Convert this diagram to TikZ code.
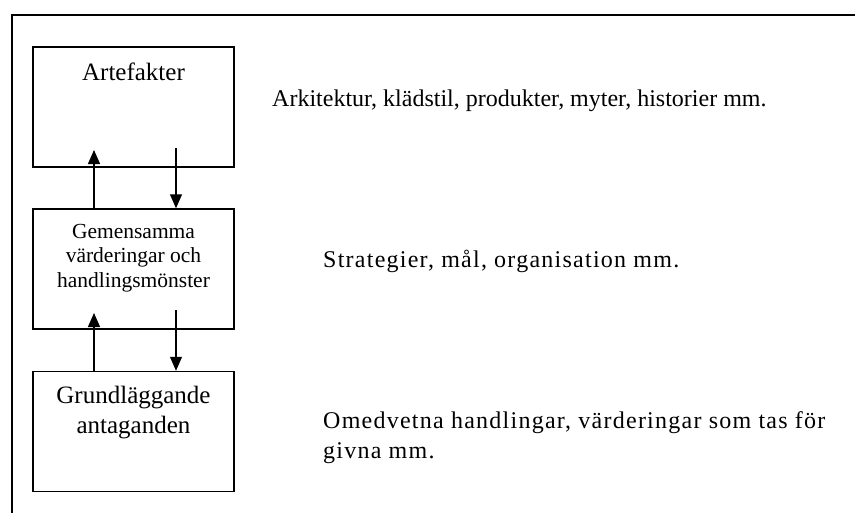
\documentclass[tikz,border=0pt]{standalone}
\usepackage{fontspec}
\setmainfont{Liberation Serif}
\usetikzlibrary{arrows.meta}
\begin{document}
\begin{tikzpicture}[x=1pt,y=-1pt,
  box/.style={draw,line width=1.5pt,minimum width=201pt,minimum height=120pt,inner sep=0pt},
  arr/.style={line width=1.3pt,-{Triangle[length=14pt,width=12pt]}},
  lbl/.style={inner sep=0pt,align=center,font=\fontsize{25}{30}\selectfont},
  lbls/.style={inner sep=0pt,align=center,font=\fontsize{21.5}{24.5}\selectfont},
  side/.style={inner sep=0pt,anchor=west,align=left,font=\fontsize{24}{30}\selectfont},
  wide/.style={font=\fontsize{24}{30}\selectfont\addfontfeature{LetterSpace=5.2}}]
\useasboundingbox (0,0) rectangle (855,512);
\draw[line width=1.5pt] (12,513) -- (12,15) -- (856,15);
\node[box] (a) at (133.5,107) {};
\node[box] (b) at (133.5,269) {};
\node[box] (c) at (133.5,431.5) {};
\node[lbl] (ta) at (133.5,72) {Artefakter};
\node[lbls] (tb) at (133.5,258) {Gemensamma\\värderingar och\\handlingsmönster};
\node[lbl] (tc) at (133.5,413) {Grundläggande\\antaganden};
\node[side] (sa) at (272,101) {Arkitektur, klädstil, produkter, myter, historier mm.};
\node[side,wide] (sb) at (323,261) {Strategier, mål, organisation mm.};
\node[side,wide] (sc) at (323,438) {Omedvetna handlingar, värderingar som tas för\\givna mm.};
\coordinate (u1) at (94,150);
\coordinate (d1) at (176,148);
\coordinate (u2) at (94,313);
\coordinate (d2) at (176,310);
\draw[arr] (b.north -| u1) -- (u1);
\draw[arr] (d1) -- (b.north -| d1);
\draw[arr] (c.north -| u2) -- (u2);
\draw[arr] (d2) -- (c.north -| d2);
\end{tikzpicture}
\end{document}
